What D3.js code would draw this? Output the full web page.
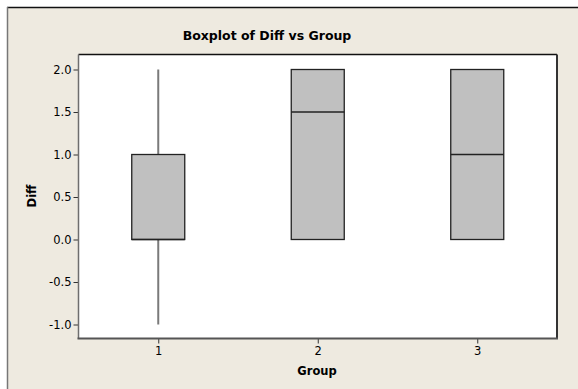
<!DOCTYPE html>
<html>
<head>
<meta charset="utf-8">
<script src="https://cdn.jsdelivr.net/npm/d3@7"></script>
<style>
  html, body { margin: 0; padding: 0; background: #ffffff; }
  svg { display: block; }
  text { font-family: "DejaVu Sans", Verdana, sans-serif; fill: #000; }
</style>
</head>
<body>
<script>
// Five-number summaries of Diff for each Group
const groups = ["1", "2", "3"];
const whiskerLow = [-1.0, 0.0, 0.0];
const q1 = [0.0, 0.0, 0.0];
const medians = [0.0, 1.5, 1.0];
const q3 = [1.0, 2.0, 2.0];
const whiskerHigh = [2.0, 2.0, 2.0];
const yTicks = [-1.0, -0.5, 0.0, 0.5, 1.0, 1.5, 2.0];

const W = 578, H = 389;
const plot = { left: 78.5, top: 54.5, right: 557, bottom: 338.5 };

const svg = d3.select("body").append("svg").attr("width", W).attr("height", H);

// graph window
svg.append("rect").attr("x", 7).attr("y", 7).attr("width", W - 7).attr("height", H - 7)
  .attr("fill", "#eeeae0");
svg.append("line").attr("x1", 7).attr("x2", W).attr("y1", 7.5).attr("y2", 7.5)
  .attr("stroke", "#111").attr("stroke-width", 1.5);
svg.append("line").attr("x1", 7.5).attr("x2", 7.5).attr("y1", 7).attr("y2", H)
  .attr("stroke", "#777").attr("stroke-width", 1.5);

// data region
svg.append("rect").attr("x", plot.left).attr("y", plot.top)
  .attr("width", plot.right - plot.left).attr("height", plot.bottom - plot.top)
  .attr("fill", "#ffffff");

const x = d3.scaleLinear().domain([0.5, 3.5]).range([plot.left, plot.right]);
const y = d3.scaleLinear().domain([-1, 2]).range([324.5, 69.5]);

const boxW = 53;
const data = groups.map((g, i) => ({
  g, lo: whiskerLow[i], q1: q1[i], med: medians[i], q3: q3[i], hi: whiskerHigh[i]
}));

const gBox = svg.append("g");
data.forEach(d => {
  const cx = x(+d.g);
  // whiskers
  if (d.hi > d.q3) {
    gBox.append("line").attr("x1", cx).attr("x2", cx).attr("y1", y(d.q3)).attr("y2", y(d.hi))
      .attr("stroke", "#7a7a7a").attr("stroke-width", 2);
  }
  if (d.lo < d.q1) {
    gBox.append("line").attr("x1", cx).attr("x2", cx).attr("y1", y(d.q1)).attr("y2", y(d.lo))
      .attr("stroke", "#7a7a7a").attr("stroke-width", 2);
  }
  // interquartile box
  gBox.append("rect").attr("x", cx - boxW / 2).attr("y", y(d.q3))
    .attr("width", boxW).attr("height", y(d.q1) - y(d.q3))
    .attr("fill", "#c0c0c0").attr("stroke", "#222").attr("stroke-width", 1.3);
  // median
  gBox.append("line").attr("x1", cx - boxW / 2).attr("x2", cx + boxW / 2)
    .attr("y1", y(d.med)).attr("y2", y(d.med))
    .attr("stroke", "#222").attr("stroke-width", 1.3);
});

// frame of the data region
svg.append("line").attr("x1", plot.left).attr("x2", plot.right).attr("y1", plot.top).attr("y2", plot.top)
  .attr("stroke", "#111").attr("stroke-width", 1.5);
svg.append("line").attr("x1", plot.right).attr("x2", plot.right).attr("y1", plot.top).attr("y2", plot.bottom)
  .attr("stroke", "#333").attr("stroke-width", 2);

// axes (plain hyphen for negative values)
const fmt1 = d => d3.format(".1f")(d).replace("\u2212", "-");
const yAxis = d3.axisLeft(y).tickValues(yTicks).tickFormat(fmt1)
  .tickSize(5).tickPadding(2);
const gy = svg.append("g").attr("transform", `translate(${plot.left},0)`).call(yAxis);
gy.select(".domain").remove();
gy.append("line").attr("x1", 0).attr("x2", 0).attr("y1", plot.top).attr("y2", plot.bottom)
  .attr("stroke", "#6e6e6e").attr("stroke-width", 1.5);
gy.selectAll(".tick line").attr("stroke", "#333");
gy.selectAll(".tick text").attr("font-size", 11.5).attr("fill", "#000")
  .style("font-family", '"DejaVu Sans", Verdana, sans-serif');

const xAxis = d3.axisBottom(x).tickValues(groups.map(Number)).tickFormat(d3.format("d"))
  .tickSize(5).tickPadding(3);
const gx = svg.append("g").attr("transform", `translate(0,${plot.bottom})`).call(xAxis);
gx.select(".domain").remove();
gx.append("line").attr("x1", plot.left - 1).attr("x2", plot.right + 1).attr("y1", 0).attr("y2", 0)
  .attr("stroke", "#555").attr("stroke-width", 2);
gx.selectAll(".tick line").attr("stroke", "#333");
gx.selectAll(".tick text").attr("font-size", 11.5).attr("fill", "#000")
  .style("font-family", '"DejaVu Sans", Verdana, sans-serif');

// titles
svg.append("text").attr("x", 267).attr("y", 40).attr("text-anchor", "middle")
  .attr("font-size", 12.5).attr("font-weight", "bold").text("Boxplot of Diff vs Group");
svg.append("text").attr("x", 317).attr("y", 375).attr("text-anchor", "middle")
  .attr("font-size", 11.5).attr("font-weight", "bold").text("Group");
svg.append("text").attr("transform", "translate(36,196) rotate(-90)").attr("text-anchor", "middle")
  .attr("font-size", 11.5).attr("font-weight", "bold").text("Diff");
</script>
</body>
</html>
